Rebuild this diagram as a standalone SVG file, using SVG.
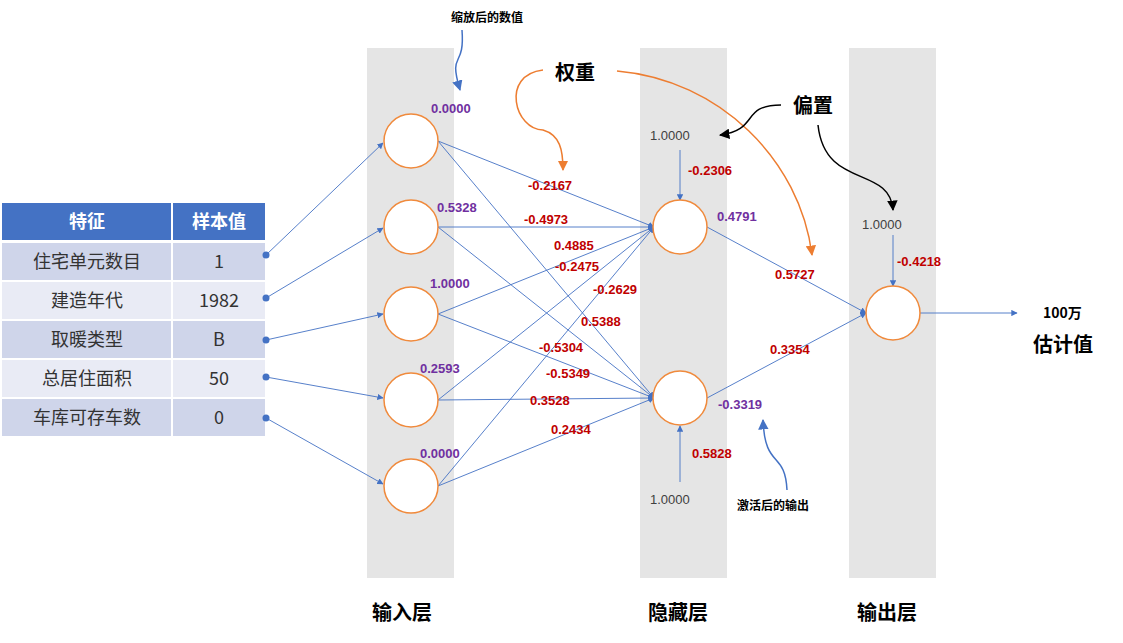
<svg xmlns="http://www.w3.org/2000/svg" width="1123" height="643" viewBox="0 0 1123 643">
<style>
.band{fill:#e5e5e5}
.n{fill:#fff;stroke:#f08a3c;stroke-width:1.5}
.c line,.c path.b{stroke:#4472c4;stroke-width:0.9;fill:none}
.t{font-family:"Liberation Sans","Noto Sans CJK SC",sans-serif}
.w{fill:#c00000;font-size:13px;font-weight:bold;font-family:"Liberation Sans",sans-serif}
.v{fill:#7030a0;font-size:13px;font-weight:bold;font-family:"Liberation Sans",sans-serif}
.g{fill:#404040;font-size:13px;font-family:"Liberation Sans",sans-serif}
.cj{font-family:"Noto Sans CJK SC",sans-serif;font-weight:bold;fill:#000}
.td{font-family:"Noto Sans CJK SC",sans-serif;font-size:18px;fill:#333;text-anchor:middle}
</style>
<defs>
<marker id="ab" viewBox="0 0 10 10" refX="9" refY="5" markerWidth="7" markerHeight="7" orient="auto"><path d="M0,0L10,5L0,10z" fill="#4472c4"/></marker>
<marker id="ao" viewBox="0 0 10 10" refX="9" refY="5" markerWidth="7" markerHeight="7" orient="auto"><path d="M0,0L10,5L0,10z" fill="#ed7d31"/></marker>
<marker id="ak" viewBox="0 0 10 10" refX="9" refY="5" markerWidth="7" markerHeight="7" orient="auto"><path d="M0,0L10,5L0,10z" fill="#000"/></marker>
</defs>
<rect width="1123" height="643" fill="#fff"/>
<rect class="band" x="367" y="48" width="87" height="530"/>
<rect class="band" x="640" y="48" width="87" height="530"/>
<rect class="band" x="849" y="48" width="87" height="530"/>
<g id="table">
<rect x="2" y="203" width="169" height="37" fill="#4472c4"/><rect x="173" y="203" width="92" height="37" fill="#4472c4"/>
<text x="87" y="228" class="td" style="fill:#fff;font-weight:bold">特征</text><text x="219" y="228" class="td" style="fill:#fff;font-weight:bold">样本值</text>
<rect x="2" y="243" width="169" height="37" fill="#cfd5ea"/><rect x="173" y="243" width="92" height="37" fill="#cfd5ea"/>
<rect x="2" y="282" width="169" height="37" fill="#e9ebf5"/><rect x="173" y="282" width="92" height="37" fill="#e9ebf5"/>
<rect x="2" y="321" width="169" height="37" fill="#cfd5ea"/><rect x="173" y="321" width="92" height="37" fill="#cfd5ea"/>
<rect x="2" y="360" width="169" height="37" fill="#e9ebf5"/><rect x="173" y="360" width="92" height="37" fill="#e9ebf5"/>
<rect x="2" y="399" width="169" height="37" fill="#cfd5ea"/><rect x="173" y="399" width="92" height="37" fill="#cfd5ea"/>
<text x="87" y="268" class="td">住宅单元数目</text><text x="219" y="268" class="td">1</text>
<text x="87" y="307" class="td">建造年代</text><text x="219" y="307" class="td">1982</text>
<text x="87" y="346" class="td">取暖类型</text><text x="219" y="346" class="td">B</text>
<text x="87" y="385" class="td">总居住面积</text><text x="219" y="385" class="td">50</text>
<text x="87" y="424" class="td">车库可存车数</text><text x="219" y="424" class="td">0</text>
</g>
<g id="connectors" class="c">
<line x1="266" y1="255" x2="383" y2="143" marker-end="url(#ab)"/>
<line x1="266" y1="298" x2="383" y2="228" marker-end="url(#ab)"/>
<line x1="266" y1="340" x2="383" y2="314" marker-end="url(#ab)"/>
<line x1="266" y1="377" x2="383" y2="398" marker-end="url(#ab)"/>
<line x1="266" y1="418" x2="383" y2="484" marker-end="url(#ab)"/>
<line x1="438" y1="141" x2="654" y2="227" marker-end="url(#ab)"/>
<line x1="438" y1="141" x2="654" y2="398" marker-end="url(#ab)"/>
<line x1="438" y1="227" x2="654" y2="227" marker-end="url(#ab)"/>
<line x1="438" y1="227" x2="654" y2="398" marker-end="url(#ab)"/>
<line x1="438" y1="314" x2="654" y2="227" marker-end="url(#ab)"/>
<line x1="438" y1="314" x2="654" y2="398" marker-end="url(#ab)"/>
<line x1="438" y1="400" x2="654" y2="227" marker-end="url(#ab)"/>
<line x1="438" y1="400" x2="654" y2="398" marker-end="url(#ab)"/>
<line x1="438" y1="486" x2="654" y2="227" marker-end="url(#ab)"/>
<line x1="438" y1="486" x2="654" y2="398" marker-end="url(#ab)"/>
<line x1="707" y1="227" x2="866" y2="313" marker-end="url(#ab)"/>
<line x1="707" y1="398" x2="866" y2="313" marker-end="url(#ab)"/>
<line x1="920" y1="313" x2="1017" y2="313" marker-end="url(#ab)"/>
<line x1="680" y1="150" x2="680" y2="200" marker-end="url(#ab)"/>
<line x1="680" y1="482" x2="680" y2="426" marker-end="url(#ab)"/>
<line x1="893" y1="235" x2="893" y2="286" marker-end="url(#ab)"/>
<path class="b" d="M462,30 C465,70 448,50 460,90" style="stroke-width:1.5" marker-end="url(#ab)"/>
<path class="b" d="M787,490 C785,450 765,470 763,420" style="stroke-width:1.5" marker-end="url(#ab)"/>
<path d="M543,70 C500,75 515,130 543,130 C560,135 563,150 563,170" stroke="#ed7d31" stroke-width="1.5" fill="none" marker-end="url(#ao)"/>
<path d="M617,71 C720,80 800,160 812,255" stroke="#ed7d31" stroke-width="1.5" fill="none" marker-end="url(#ao)"/>
<path d="M781,105 C740,105 760,130 720,135" stroke="#000" stroke-width="1.5" fill="none" marker-end="url(#ak)"/>
<path d="M818,125 C825,190 890,165 893,210" stroke="#000" stroke-width="1.5" fill="none" marker-end="url(#ak)"/>
<circle cx="266" cy="255" r="3.5" fill="#4472c4"/><circle cx="266" cy="298" r="3.5" fill="#4472c4"/><circle cx="266" cy="340" r="3.5" fill="#4472c4"/><circle cx="266" cy="377" r="3.5" fill="#4472c4"/><circle cx="266" cy="418" r="3.5" fill="#4472c4"/>
</g>
<g id="input-nodes">
<circle class="n" cx="411" cy="141" r="27"/><circle class="n" cx="411" cy="227" r="27"/><circle class="n" cx="411" cy="314" r="27"/><circle class="n" cx="411" cy="400" r="27"/><circle class="n" cx="411" cy="486" r="27"/>
</g>
<g id="hidden-nodes"><circle class="n" cx="680" cy="227" r="27"/><circle class="n" cx="680" cy="398" r="27"/></g>
<g id="output-node"><circle class="n" cx="893" cy="313" r="27"/></g>
<g id="labels">
<text class="v" x="431" y="113">0.0000</text><text class="v" x="437" y="212">0.5328</text><text class="v" x="430" y="288">1.0000</text><text class="v" x="420" y="373">0.2593</text><text class="v" x="420" y="458">0.0000</text>
<text class="v" x="717" y="221">0.4791</text><text class="v" x="718" y="409">-0.3319</text>
<text class="g" x="650" y="140">1.0000</text><text class="g" x="650" y="504">1.0000</text><text class="g" x="862" y="229">1.0000</text>
<text class="w" x="688" y="175">-0.2306</text><text class="w" x="692" y="458">0.5828</text><text class="w" x="897" y="266">-0.4218</text>
<text class="w" x="775" y="279">0.5727</text><text class="w" x="770" y="354">0.3354</text>
<text class="w" x="528" y="190">-0.2167</text><text class="w" x="524" y="224">-0.4973</text><text class="w" x="554" y="250">0.4885</text><text class="w" x="555" y="271">-0.2475</text><text class="w" x="593" y="294">-0.2629</text><text class="w" x="581" y="326">0.5388</text><text class="w" x="539" y="352">-0.5304</text><text class="w" x="546" y="378">-0.5349</text><text class="w" x="530" y="405">0.3528</text><text class="w" x="551" y="434">0.2434</text>
<text class="cj" x="555" y="80" font-size="20">权重</text>
<text class="cj" x="793" y="113" font-size="20">偏置</text>
<text class="cj" x="451" y="22" font-size="12">缩放后的数值</text>
<text class="cj" x="737" y="510" font-size="12">激活后的输出</text>
<text class="cj" x="1043" y="318" font-size="14">100万</text>
<text class="cj" x="1033" y="352" font-size="20">估计值</text>
<text class="cj" x="372" y="620" font-size="20">输入层</text>
<text class="cj" x="648" y="620" font-size="20">隐藏层</text>
<text class="cj" x="857" y="620" font-size="20">输出层</text>
</g>
</svg>
